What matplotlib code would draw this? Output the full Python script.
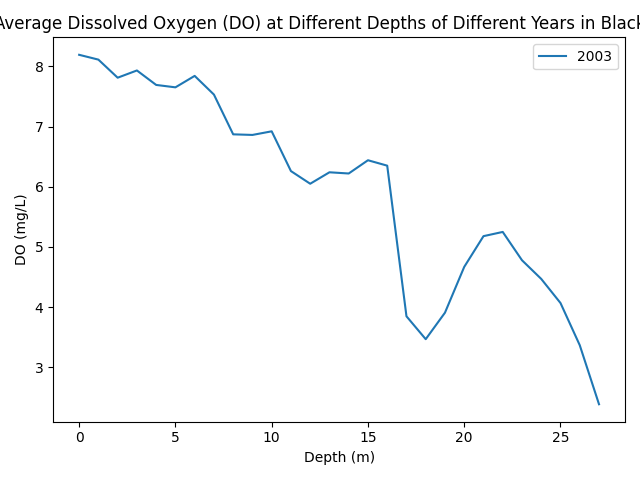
import matplotlib
matplotlib.use("Agg")
import matplotlib.pyplot as plt

depth = list(range(28))
do_2003 = [8.19, 8.11, 7.81, 7.93, 7.69, 7.65, 7.84, 7.53, 6.87, 6.86,
           6.92, 6.26, 6.05, 6.24, 6.22, 6.44, 6.35, 3.85, 3.47, 3.91,
           4.67, 5.18, 5.25, 4.78, 4.47, 4.07, 3.37, 2.39]

fig, ax = plt.subplots(figsize=(6.4, 4.8), dpi=100)
ax.plot(depth, do_2003, label='2003')
ax.set_title('Average Dissolved Oxygen (DO) at Different Depths of Different Years in Black Dog')
ax.set_xlabel('Depth (m)')
ax.set_ylabel('DO (mg/L)')
ax.legend()
plt.tight_layout()
plt.savefig('out.png')
